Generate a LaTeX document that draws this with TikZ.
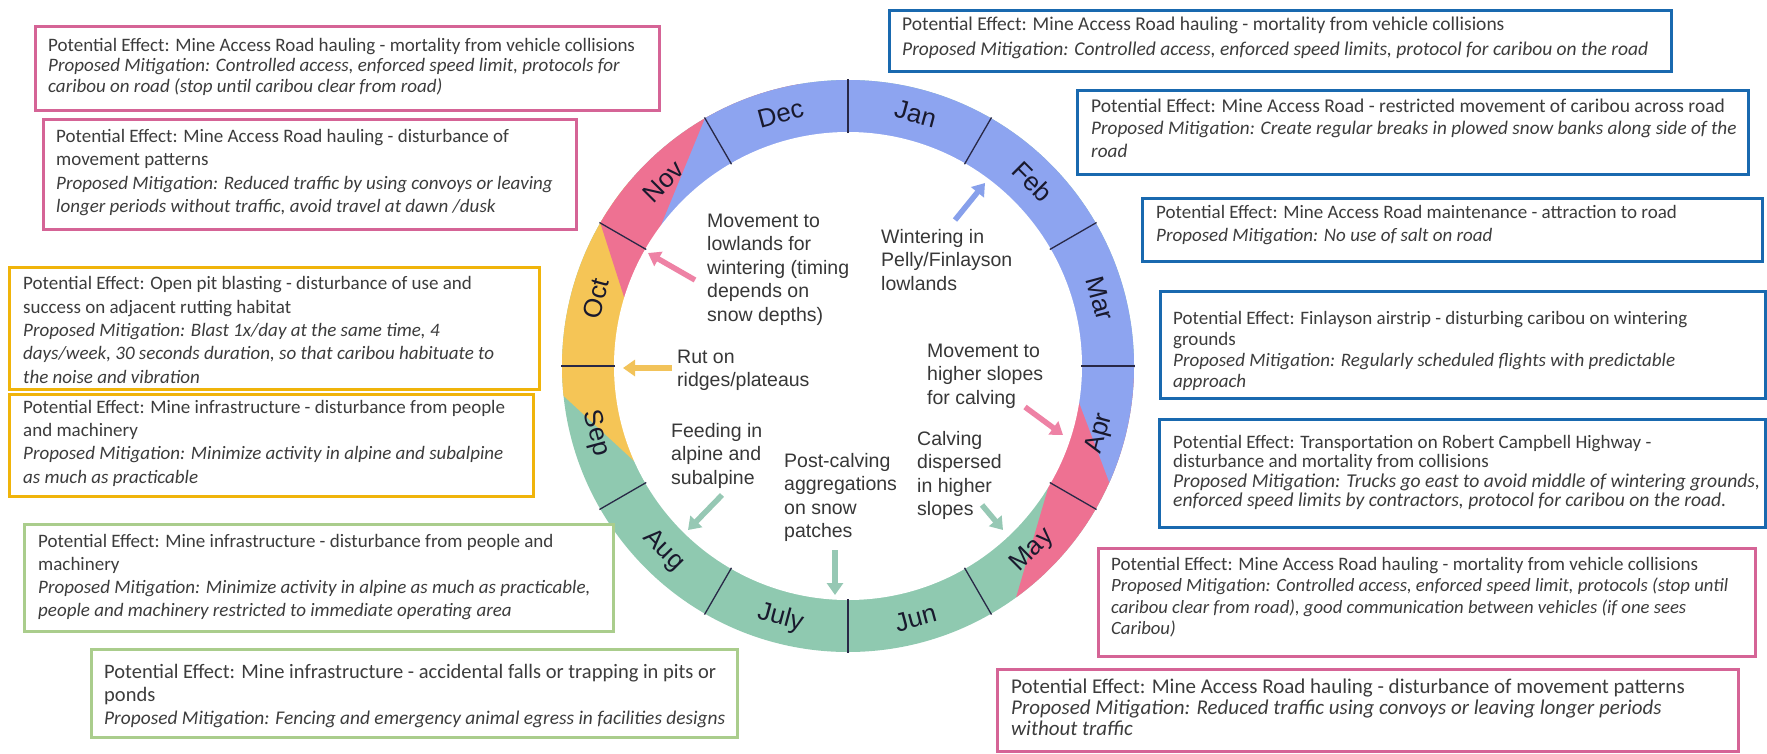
\documentclass[tikz,border=0pt]{standalone}
\usepackage{fontspec}
\setmainfont{Carlito}
\newfontfamily\arialfont{Liberation Sans}
\usetikzlibrary{arrows.meta,calc}
\definecolor{ringblue}{RGB}{141,164,240}
\definecolor{ringpink}{RGB}{238,113,146}
\definecolor{ringyellow}{RGB}{245,197,86}
\definecolor{ringgreen}{RGB}{143,201,176}
\definecolor{apink}{RGB}{238,130,165}
\definecolor{ablue}{RGB}{135,160,235}
\definecolor{ayellow}{RGB}{242,195,90}
\definecolor{agreen}{RGB}{150,200,180}
\definecolor{epink}{RGB}{213,100,150}
\definecolor{eblue}{RGB}{25,105,175}
\definecolor{eyellow}{RGB}{240,180,10}
\definecolor{egreen}{RGB}{170,205,140}
\definecolor{boxtxt}{RGB}{60,60,60}
\definecolor{innertxt}{RGB}{55,55,55}
\definecolor{monthtxt}{RGB}{25,25,45}
\definecolor{divcol}{RGB}{40,40,70}
\begin{document}
\begin{tikzpicture}[x=1pt,y=1pt,
  ringtxt/.style={font=\arialfont\fontsize{19.5}{23.5}\selectfont, text=innertxt, align=left, inner sep=0pt, anchor=base west},
  month/.style={font=\arialfont\fontsize{26}{30}\selectfont, text=monthtxt, inner sep=0pt},
  divider/.style={draw=divcol, line width=1.3pt},
  evarrow/.style={line width=5.5pt, draw=#1, -{Triangle[length=12pt,width=16pt]}},
  effbox/.style={draw=#1, line width=2.5pt, fill=white, inner sep=0pt, anchor=north west},
  efftxt/.style n args={2}{font=\fontsize{#1}{#2}\selectfont, text=boxtxt, align=left, inner sep=0pt, anchor=base west}
]
\useasboundingbox (0,0) rectangle (1767,-753);
\fill[white] (0,0) rectangle (1767,-753);

% ---------- ring ----------
\begin{scope}[shift={(848,-366)}]
  \begin{scope}
    \clip (0,0) circle (286pt);
    \fill[ringgreen] (0,0) circle (290pt);
    \fill[ringyellow] (0,0) -- (204:234pt) -- ($(204:234pt)!2!(186:286pt)$) -- (160:420pt) -- (140:420pt) -- cycle;
    \fill[ringpink] (0,0) -- (163:234pt) -- ($(163:234pt)!2!(150:286pt)$) -- (120:420pt) -- (100:420pt) -- cycle;
    \fill[ringpink] (0,0) -- (-31:234pt) -- ($(-31:234pt)!2!(-54:286pt)$) -- (-30:420pt) -- (0:420pt) -- cycle;
    \fill[ringblue] (0,0) -- (143:234pt) -- ($(143:234pt)!2!(120:286pt)$) -- (90:420pt) -- (45:420pt) -- (0:420pt) -- ($(-9:234pt)!2!(-24:286pt)$) -- (-9:234pt) -- cycle;
  \end{scope}
  \fill[white] (0,0) circle (234pt);
  \foreach \a in {0,30,...,330} \draw[divider] (\a:233pt) -- (\a:287pt);
  \node[month, rotate=-15] (mJan) at (75:261pt) {Jan};
  \node[month, rotate=-45] (mFeb) at (45:261pt) {Feb};
  \node[month, rotate=-75] (mMar) at (15:261pt) {Mar};
  \node[month, rotate=75] (mApr) at (-15:261pt) {Apr};
  \node[month, rotate=45] (mMay) at (-45:261pt) {May};
  \node[month, rotate=15] (mJun) at (-75:261pt) {Jun};
  \node[month, rotate=-15] (mJul) at (-105:261pt) {July};
  \node[month, rotate=-45] (mAug) at (-135:261pt) {Aug};
  \node[month, rotate=-75] (mSep) at (-165:261pt) {Sep};
  \node[month, rotate=75] (mOct) at (165:261pt) {Oct};
  \node[month, rotate=45] (mNov) at (135:261pt) {Nov};
  \node[month, rotate=15] (mDec) at (105:261pt) {Dec};
\end{scope}

% ---------- inner texts (anchor = baseline of last line) ----------
\node[ringtxt] (iLow) at (707,-321) {Movement to\\lowlands for\\wintering (timing\\depends on\\snow depths)};
\node[ringtxt] (iWin) at (881,-290) {Wintering in\\Pelly/Finlayson\\lowlands};
\node[ringtxt] (iRut) at (677,-386.5) {Rut on\\ridges/plateaus};
\node[ringtxt] (iFeed) at (671,-484) {Feeding in\\alpine and\\subalpine};
\node[ringtxt] (iPost) at (784,-537.5) {Post-calving\\aggregations\\on snow\\patches};
\node[ringtxt] (iHigh) at (927,-404) {Movement to\\higher slopes\\for calving};
\node[ringtxt] (iCalv) at (917,-515.5) {Calving\\dispersed\\in higher\\slopes};

% ---------- arrows ----------
\coordinate (a1s) at (695,-280); \coordinate (a1e) at (648,-253);
\coordinate (a2s) at (955,-220); \coordinate (a2e) at (985,-183);
\coordinate (a3s) at (672,-368); \coordinate (a3e) at (623,-368);
\coordinate (a4s) at (722,-495); \coordinate (a4e) at (688,-530);
\coordinate (a5s) at (835,-550); \coordinate (a5e) at (835,-595);
\coordinate (a6s) at (1025,-407); \coordinate (a6e) at (1063,-435);
\coordinate (a7s) at (982,-505); \coordinate (a7e) at (1003,-530);
\draw[evarrow=apink] (a1s) -- (a1e);
\draw[evarrow=ablue] (a2s) -- (a2e);
\draw[evarrow=ayellow] (a3s) -- (a3e);
\draw[evarrow=agreen] (a4s) -- (a4e);
\draw[evarrow=agreen] (a5s) -- (a5e);
\draw[evarrow=apink] (a6s) -- (a6e);
\draw[evarrow=agreen] (a7s) -- (a7e);

% ---------- left boxes ----------
\node[effbox=epink, minimum width=624pt, minimum height=84pt] (bL1) at (34,-25) {};
\node[efftxt={19}{20.5}] (tL1) at (48,-92) {Potential Effect: Mine Access Road hauling - mortality from vehicle collisions\\
\textit{Proposed Mitigation: Controlled access, enforced speed limit, protocols for}\\
\textit{caribou on road (stop until caribou clear from road)}};

\node[effbox=epink, minimum width=533pt, minimum height=110pt] (bL2) at (42,-118) {};
\node[efftxt={19}{23.5}] (tL2) at (56,-212.5) {Potential Effect: Mine Access Road hauling - disturbance of\\
movement patterns\\
\textit{Proposed Mitigation: Reduced traffic by using convoys or leaving}\\
\textit{longer periods without traffic, avoid travel at dawn /dusk}};

\node[effbox=eyellow, minimum width=530pt, minimum height=122pt] (bL3) at (8,-266) {};
\node[efftxt={19}{23.3}] (tL3) at (23,-383) {Potential Effect: Open pit blasting - disturbance of use and\\
success on adjacent rutting habitat\\
\textit{Proposed Mitigation: Blast 1x/day at the same time, 4}\\
\textit{days/week, 30 seconds duration, so that caribou habituate to}\\
\textit{the noise and vibration}};

\node[effbox=eyellow, minimum width=524pt, minimum height=102pt] (bL4) at (8,-393) {};
\node[efftxt={19}{23.3}] (tL4) at (23,-483) {Potential Effect: Mine infrastructure - disturbance from people\\
and machinery\\
\textit{Proposed Mitigation: Minimize activity in alpine and subalpine}\\
\textit{as much as practicable}};

\node[effbox=egreen, minimum width=589pt, minimum height=107pt] (bL5) at (23,-523) {};
\node[efftxt={19}{23}] (tL5) at (38,-616) {Potential Effect: Mine infrastructure - disturbance from people and\\
machinery\\
\textit{Proposed Mitigation: Minimize activity in alpine as much as practicable,}\\
\textit{people and machinery restricted to immediate operating area}};

\node[effbox=egreen, minimum width=646pt, minimum height=88pt] (bL6) at (90,-648) {};
\node[efftxt={20.5}{23}] (tL6) at (104,-724) {Potential Effect: Mine infrastructure - accidental falls or trapping in pits or\\
ponds\\
\textit{\fontsize{19.4}{23}\selectfont Proposed Mitigation: Fencing and emergency animal egress in facilities designs}};

% ---------- right boxes ----------
\node[effbox=eblue, minimum width=782pt, minimum height=61pt] (bR1) at (888,-9) {};
\node[efftxt={19.5}{25}] (tR1) at (902,-55) {Potential Effect: Mine Access Road hauling - mortality from vehicle collisions\\
\textit{Proposed Mitigation: Controlled access, enforced speed limits, protocol for caribou on the road}};

\node[effbox=eblue, minimum width=671pt, minimum height=84pt] (bR2) at (1076,-89) {};
\node[efftxt={19.5}{22.5}] (tR2) at (1091,-157) {Potential Effect: Mine Access Road - restricted movement of caribou across road\\
\textit{\fontsize{19.2}{22.5}\selectfont Proposed Mitigation: Create regular breaks in plowed snow banks along side of the}\\
\textit{\fontsize{19.2}{22.5}\selectfont road}};

\node[effbox=eblue, minimum width=620pt, minimum height=63pt] (bR3) at (1141,-197) {};
\node[efftxt={19}{23}] (tR3) at (1156,-241) {Potential Effect: Mine Access Road maintenance - attraction to road\\
\textit{Proposed Mitigation: No use of salt on road}};

\node[effbox=eblue, minimum width=605pt, minimum height=107pt] (bR4) at (1159,-290) {};
\node[efftxt={19}{21}] (tR4) at (1173,-387) {Potential Effect: Finlayson airstrip - disturbing caribou on wintering\\
grounds\\
\textit{Proposed Mitigation: Regularly scheduled flights with predictable}\\
\textit{approach}};

\node[effbox=eblue, minimum width=606pt, minimum height=108pt] (bR5) at (1158,-418) {};
\node[efftxt={19}{19.5}] (tR5) at (1173,-506.5) {Potential Effect: Transportation on Robert Campbell Highway -\\
disturbance and mortality from collisions\\
\textit{\fontsize{19.6}{19.5}\selectfont Proposed Mitigation: Trucks go east to avoid middle of wintering grounds,}\\
\textit{\fontsize{19.6}{19.5}\selectfont enforced speed limits by contractors, protocol for caribou on the road.}};

\node[effbox=epink, minimum width=657pt, minimum height=108pt] (bR6) at (1097,-547) {};
\node[efftxt={19}{21.5}] (tR6) at (1111,-634.5) {Potential Effect: Mine Access Road hauling - mortality from vehicle collisions\\
\textit{\fontsize{18.7}{21.5}\selectfont Proposed Mitigation: Controlled access, enforced speed limit, protocols (stop until}\\
\textit{\fontsize{18.7}{21.5}\selectfont caribou clear from road), good communication between vehicles (if one sees}\\
\textit{\fontsize{18.7}{21.5}\selectfont Caribou)}};

\node[effbox=epink, minimum width=741pt, minimum height=82pt] (bR7) at (996,-668) {};
\node[efftxt={21}{21}] (tR7) at (1011,-735) {Potential Effect: Mine Access Road hauling - disturbance of movement patterns\\
\textit{Proposed Mitigation: Reduced traffic using convoys or leaving longer periods}\\
\textit{without traffic}};
\end{tikzpicture}
\end{document}
